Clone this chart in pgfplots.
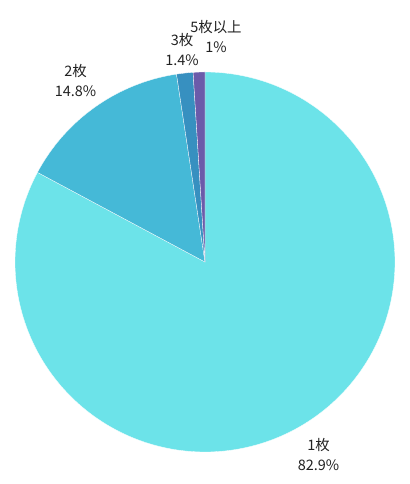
\documentclass[border=0pt]{standalone}
\usepackage{pgfplots}
\pgfplotsset{compat=1.18}
\usepackage{fontspec}
\setmainfont{Noto Sans CJK SC}
\definecolor{c1}{HTML}{6CE3E9}
\definecolor{c2}{HTML}{45B9D7}
\definecolor{c3}{HTML}{3790C0}
\definecolor{c5}{HTML}{6B5BAA}
\definecolor{txt}{HTML}{222222}
% values (percent): 1枚 82.9, 2枚 14.8, 3枚 1.4, 5枚以上 1.0
\def\vA{82.9}\def\vB{14.8}\def\vC{1.4}\def\vD{1.0}
\def\tot{100.1}
\begin{document}
\begin{tikzpicture}
\begin{axis}[
  width=410bp, height=484bp, scale only axis,
  xmin=0, xmax=410, ymin=0, ymax=484,
  hide axis, clip=false,
]
\pgfmathsetmacro{\aA}{90}
\pgfmathsetmacro{\aB}{\aA-\vA/\tot*360}
\pgfmathsetmacro{\aC}{\aB-\vB/\tot*360}
\pgfmathsetmacro{\aD}{\aC-\vC/\tot*360}
\pgfmathsetmacro{\aE}{\aD-\vD/\tot*360}
\addplot[fill=c1, draw=white, line width=0.3pt, domain=\aB:\aA, samples=200]
  ({205+190*cos(x)},{222+190*sin(x)}) -- (axis cs:205,222) -- cycle;
\addplot[fill=c2, draw=white, line width=0.3pt, domain=\aC:\aB, samples=60]
  ({205+190*cos(x)},{222+190*sin(x)}) -- (axis cs:205,222) -- cycle;
\addplot[fill=c3, draw=white, line width=0.3pt, domain=\aD:\aC, samples=10]
  ({205+190*cos(x)},{222+190*sin(x)}) -- (axis cs:205,222) -- cycle;
\addplot[fill=c5, draw=white, line width=0.3pt, domain=\aE:\aD, samples=10]
  ({205+190*cos(x)},{222+190*sin(x)}) -- (axis cs:205,222) -- cycle;
\path (axis cs:0,0) (axis cs:410,484);
\tikzset{lbl/.style={align=center, inner sep=0pt, text=txt, font=\fontsize{14.5}{19.5}\selectfont}}
\node[lbl] at (axis cs:318.5,29.5) {1枚\\82.9\%};
\node[lbl] at (axis cs:75.5,403.5) {2枚\\14.8\%};
\node[lbl] at (axis cs:182,434.5) {3枚\\1.4\%};
\node[lbl] at (axis cs:216,447.5) {5枚以上\\1\%};
\end{axis}
\end{tikzpicture}
\end{document}
